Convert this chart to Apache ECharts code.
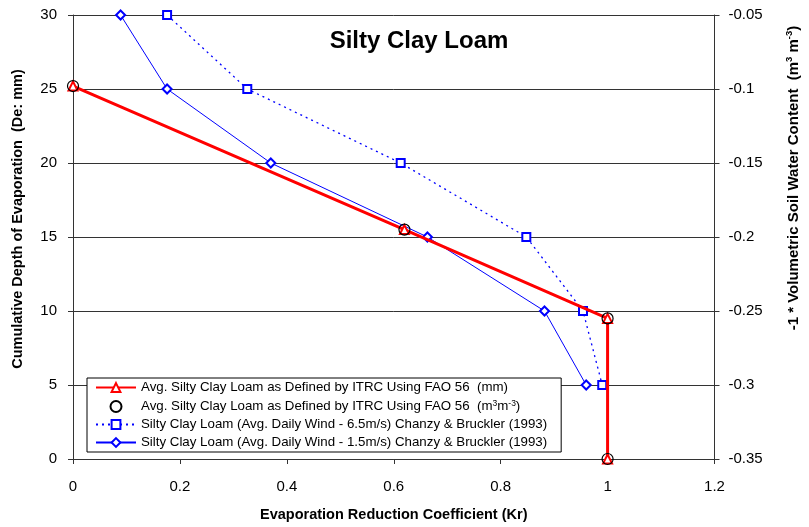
<!DOCTYPE html>
<html><head><meta charset="utf-8">
<script src="https://cdn.jsdelivr.net/npm/echarts@6/dist/echarts.min.js"></script>
<style>html,body{margin:0;padding:0;background:#fff}#c{width:809px;height:527px}</style>
</head><body><div id="c"></div>
<script>
const seriesNames = [
  'Avg. Silty Clay Loam as Defined by ITRC Using FAO 56  (mm)',
  'Avg. Silty Clay Loam as Defined by ITRC Using FAO 56  (m3m-3)',
  'Silty Clay Loam (Avg. Daily Wind - 6.5m/s) Chanzy & Bruckler (1993)',
  'Silty Clay Loam (Avg. Daily Wind - 1.5m/s) Chanzy & Bruckler (1993)'
];
// FAO 56 (mm) — x: Kr, y: De (mm)
const faoKr = [0, 0.62, 1, 1];
const faoDe = [25.2, 15.5, 9.5, 0];
// FAO 56 (m3 m-3) — x: Kr, y: -1*theta
const faoThetaKr = [0, 0.62, 1, 1];
const faoTheta = [-0.098, -0.195, -0.255, -0.35];
// Chanzy & Bruckler 6.5 m/s
const wind65Kr = [0.176, 0.326, 0.613, 0.848, 0.954, 0.99];
const wind65Theta = [-0.05, -0.1, -0.15, -0.2, -0.25, -0.3];
// Chanzy & Bruckler 1.5 m/s
const wind15Kr = [0.089, 0.176, 0.37, 0.663, 0.882, 0.96];
const wind15Theta = [-0.05, -0.1, -0.15, -0.2, -0.25, -0.3];

const zip = (a, b) => a.map((v, i) => [v, b[i]]);
const F = 'Liberation Sans, Arial, sans-serif';

const chart = echarts.init(document.getElementById('c'));
chart.setOption({
  animation: false,
  backgroundColor: '#fff',
  title: {
    text: 'Silty Clay Loam', left: 414, top: 24, textAlign: 'center',
    textStyle: { fontFamily: F, fontSize: 24, fontWeight: 'bold', color: '#000' }
  },
  grid: { left: 73, right: 90, top: 15, bottom: 67 },
  legend: {
    orient: 'vertical', left: 87, top: 378,
    backgroundColor: '#fff', borderColor: '#000', borderWidth: 1,
    padding: [3, 14, 3, 8], itemGap: 5, itemWidth: 40, itemHeight: 11,
    textStyle: { fontFamily: F, fontSize: 13.3, color: '#000',
      rich: { n: { fontFamily: F, fontSize: 13.3, color: '#000' },
              s: { fontFamily: F, fontSize: 8.5, color: '#000', verticalAlign: 'top', padding: [0,0,6,0] } } },
    formatter: function (name) {
      if (name === seriesNames[1]) {
        return '{n|Avg. Silty Clay Loam as Defined by ITRC Using FAO 56  (m}{s|3}{n|m}{s|-3}{n|)}';
      }
      return name;
    },
    data: seriesNames
  },
  xAxis: {
    type: 'value', min: 0, max: 1.2, interval: 0.2,
    name: 'Evaporation Reduction Coefficient (Kr)', nameLocation: 'middle', nameGap: 48,
    nameTextStyle: { fontFamily: F, fontSize: 14.5, fontWeight: 'bold', color: '#000' },
    axisLine: { lineStyle: { color: '#333', width: 1 } },
    axisTick: { show: true, length: 5, lineStyle: { color: '#333' } },
    axisLabel: { fontFamily: F, fontSize: 15, color: '#000', margin: 20 },
    splitLine: { show: false }
  },
  yAxis: [{
    type: 'value', min: 0, max: 30, interval: 5, position: 'left',
    name: 'Cumulative Depth of Evaporation  (De: mm)', nameLocation: 'middle', nameGap: 48,
    nameTextStyle: { fontFamily: F, fontSize: 14.5, fontWeight: 'bold', color: '#000', padding: [0, 0, 0, 36] },
    axisLine: { show: true, lineStyle: { color: '#333', width: 1 } },
    axisTick: { show: true, length: 5, lineStyle: { color: '#333' } },
    axisLabel: { fontFamily: F, fontSize: 15, color: '#000', margin: 16 },
    splitLine: { show: true, lineStyle: { color: '#333', width: 1 } }
  }, {
    type: 'value', min: -0.35, max: -0.05, interval: 0.05, position: 'right',
    name: '{n|-1 * Volumetric Soil Water Content  (m}{s|3}{n| m}{s|-3}{n|)}',
    nameLocation: 'middle', nameGap: 70,
    nameTextStyle: { fontFamily: F, fontSize: 15, fontWeight: 'bold', color: '#000', padding: [0, 0, 0, 118],
      rich: { n: { fontFamily: F, fontSize: 15, fontWeight: 'bold', color: '#000' },
              s: { fontFamily: F, fontSize: 9.5, fontWeight: 'bold', color: '#000', verticalAlign: 'top', padding: [0,0,8,0] } } },
    axisLine: { show: true, lineStyle: { color: '#333', width: 1 } },
    axisTick: { show: true, length: 5, lineStyle: { color: '#333' } },
    axisLabel: { fontFamily: F, fontSize: 15, color: '#000', margin: 14 },
    splitLine: { show: false }
  }],
  series: [{
    name: seriesNames[0], type: 'line', yAxisIndex: 0, z: 4,
    data: zip(faoKr, faoDe),
    lineStyle: { color: '#ff0000', width: 3 },
    itemStyle: { color: '#ff0000', borderColor: '#ff0000' },
    symbol: 'emptyTriangle', symbolSize: 9
  }, {
    name: seriesNames[1], type: 'scatter', yAxisIndex: 1, z: 5,
    data: zip(faoThetaKr, faoTheta),
    symbol: 'circle', symbolSize: 11,
    itemStyle: { color: 'rgba(0,0,0,0)', borderColor: '#000', borderWidth: 1.2, opacity: 1 }
  }, {
    name: seriesNames[2], type: 'line', yAxisIndex: 1, z: 3,
    data: zip(wind65Kr, wind65Theta),
    lineStyle: { color: '#0000ff', width: 1.3, type: [2, 4] },
    itemStyle: { color: '#0000ff', borderColor: '#0000ff' },
    symbol: 'emptyRect', symbolSize: 8
  }, {
    name: seriesNames[3], type: 'line', yAxisIndex: 1, z: 3,
    data: zip(wind15Kr, wind15Theta),
    lineStyle: { color: '#0000ff', width: 1 },
    itemStyle: { color: '#0000ff', borderColor: '#0000ff' },
    symbol: 'emptyDiamond', symbolSize: 9
  }]
});
</script>
</body></html>
